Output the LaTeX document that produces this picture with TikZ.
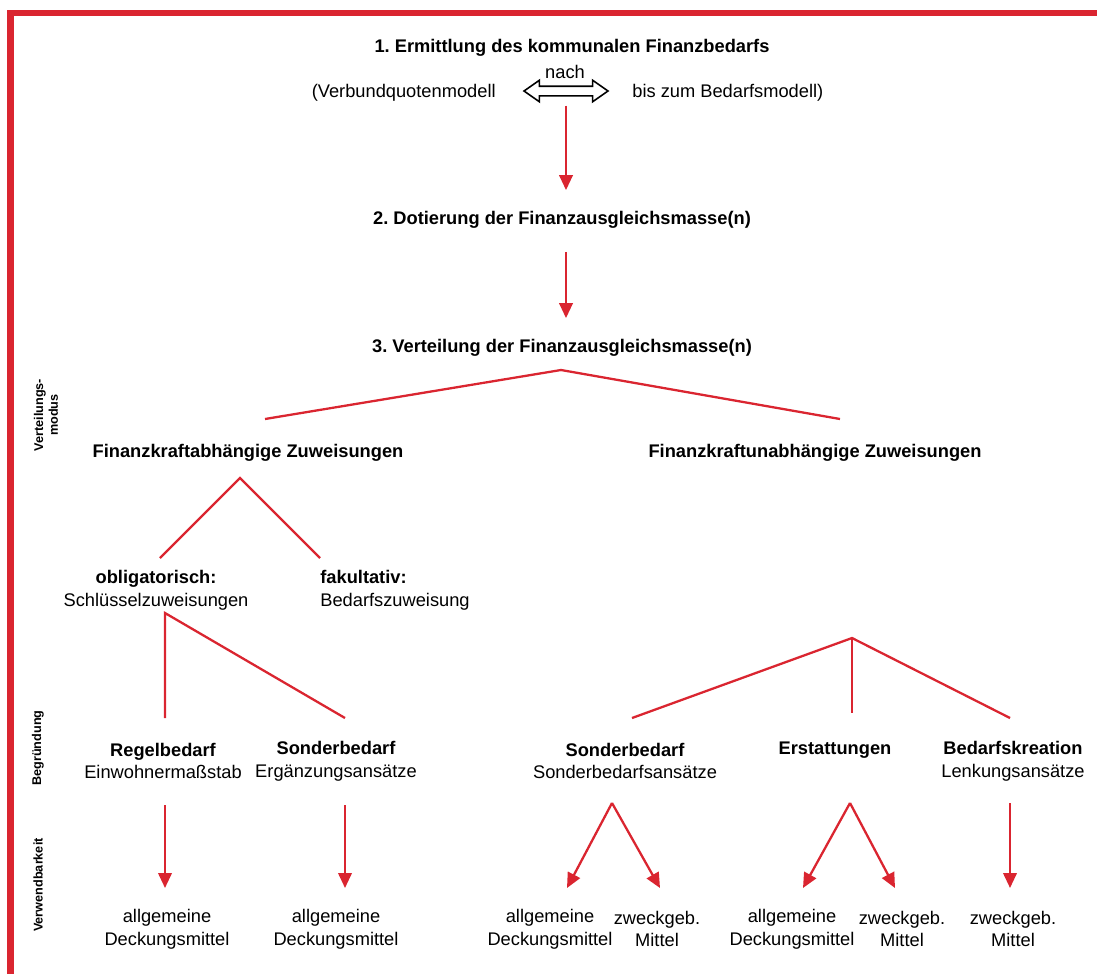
\documentclass[tikz,border=0pt]{standalone}
\usepackage{fontspec}
\setmainfont{Liberation Sans}
\usetikzlibrary{arrows.meta,shapes.arrows}
\definecolor{fagred}{RGB}{218,37,48}
\frenchspacing

\begin{document}
\begin{tikzpicture}[x=0.02cm, y=-0.02cm,
  every node/.style={align=center, inner sep=0pt, font=\fontsize{10.4}{13}\selectfont},
  stage/.style={font=\fontsize{10.4}{13}\selectfont\bfseries},
  redline/.style={draw=fagred, line width=1.3pt},
  redarrow/.style={redline, -{Triangle[length=0.3cm, width=0.27cm]}},
  sidelabel/.style={rotate=90, font=\fontsize{7.2}{8.4}\selectfont\bfseries}]

\useasboundingbox (0,0) rectangle (1097,974);

% frame
\fill[fagred] (7,10) rectangle (1097,16);
\fill[fagred] (7,10) rectangle (14,974);

% side labels
\node[sidelabel] (modus) at (46,415) {Verteilungs-\\modus};
\node[sidelabel] (begr) at (38,748) {Begründung};
\node[sidelabel] (verw) at (38,885) {Verwendbarkeit};

% stages
\node[stage] (step1) at (572,48) {1. Ermittlung des kommunalen Finanzbedarfs};
\node (nach) at (565,72) {nach};
\node[anchor=east] (vqm) at (496,93) {(Verbundquotenmodell};
\node[anchor=west] (bdm) at (632,93) {bis zum Bedarfsmodell)};
\node[draw, double arrow, fill=white, line width=0.9pt, minimum height=1.68cm,
  inner sep=0.08cm, double arrow head extend=0.12cm, double arrow tip angle=70] (dbl) at (566,91) {};
\node[stage] (step2) at (562,220) {2. Dotierung der Finanzausgleichsmasse(n)};
\node[stage] (step3) at (562,348) {3. Verteilung der Finanzausgleichsmasse(n)};

% allocation mode
\node[stage] (fka) at (248,453) {Finanzkraftabhängige Zuweisungen};
\node[stage] (fku) at (815,453) {Finanzkraftunabhängige Zuweisungen};
\node (obl) at (156,590) {\textbf{obligatorisch:}\\Schlüsselzuweisungen};
\node[anchor=west, align=left] (fak) at (320,590) {\textbf{fakultativ:}\\Bedarfszuweisung};

% reasons
\node (regel) at (163,761) {\textbf{Regelbedarf}\\Einwohnermaßstab};
\node (sonder) at (336,761) {\textbf{Sonderbedarf}\\Ergänzungsansätze};
\node (sbansatz) at (625,761) {\textbf{Sonderbedarf}\\Sonderbedarfsansätze};
\node[stage] (erst) at (835,750) {Erstattungen};
\node (bkreat) at (1013,761) {\textbf{Bedarfskreation}\\Lenkungsansätze};

% usability
\node (allg1) at (167,929) {allgemeine\\Deckungsmittel};
\node (allg2) at (336,929) {allgemeine\\Deckungsmittel};
\node (allg3) at (550,929) {allgemeine\\Deckungsmittel};
\node (zweck3) at (657,929) {zweckgeb.\\Mittel};
\node (allg4) at (792,929) {allgemeine\\Deckungsmittel};
\node (zweck4) at (902,929) {zweckgeb.\\Mittel};
\node (zweck5) at (1013,929) {zweckgeb.\\Mittel};

% branch points
\coordinate (v3) at (561,370);
\coordinate (fka-in) at (265,419);
\coordinate (fku-in) at (840,419);
\coordinate (fka-out) at (240,478);
\coordinate (obl-in) at (160,558);
\coordinate (fak-in) at (320,558);
\coordinate (obl-out) at (165,613);
\coordinate (regel-in) at (165,718);
\coordinate (sonder-in) at (345,718);
\coordinate (fku-out) at (852,638);
\coordinate (sb-in) at (632,718);
\coordinate (erst-in) at (852,713);
\coordinate (bk-in) at (1010,718);
\coordinate (regel-out) at (165,805);
\coordinate (sonder-out) at (345,805);
\coordinate (sb-out) at (612,803);
\coordinate (erst-out) at (850,803);
\coordinate (bk-out) at (1010,803);
\coordinate (allg1-in) at (165,888);
\coordinate (allg2-in) at (345,888);
\coordinate (allg3-in) at (567,888);
\coordinate (zweck3-in) at (660,888);
\coordinate (allg4-in) at (803,888);
\coordinate (zweck4-in) at (895,888);
\coordinate (zweck5-in) at (1010,888);

% arrows
\draw[redarrow, shorten <=0.18cm, shorten >=0.42cm] (dbl.south) -- (dbl.south |- step2.north);
\draw[redarrow, shorten <=0.46cm, shorten >=0.42cm] (dbl.south |- step2.south) -- (dbl.south |- step3.north);

% tree
\draw[redline] (fka-in) -- (v3) -- (fku-in);
\draw[redline] (obl-in) -- (fka-out) -- (fak-in);
\draw[redline] (regel-in) -- (obl-out) -- (sonder-in);
\draw[redline] (sb-in) -- (fku-out) -- (bk-in);
\draw[redline] (fku-out) -- (erst-in);

\draw[redarrow] (regel-out) -- (allg1-in);
\draw[redarrow] (sonder-out) -- (allg2-in);
\draw[redarrow] (sb-out) -- (allg3-in);
\draw[redarrow] (sb-out) -- (zweck3-in);
\draw[redarrow] (erst-out) -- (allg4-in);
\draw[redarrow] (erst-out) -- (zweck4-in);
\draw[redarrow] (bk-out) -- (zweck5-in);

\end{tikzpicture}
\end{document}
